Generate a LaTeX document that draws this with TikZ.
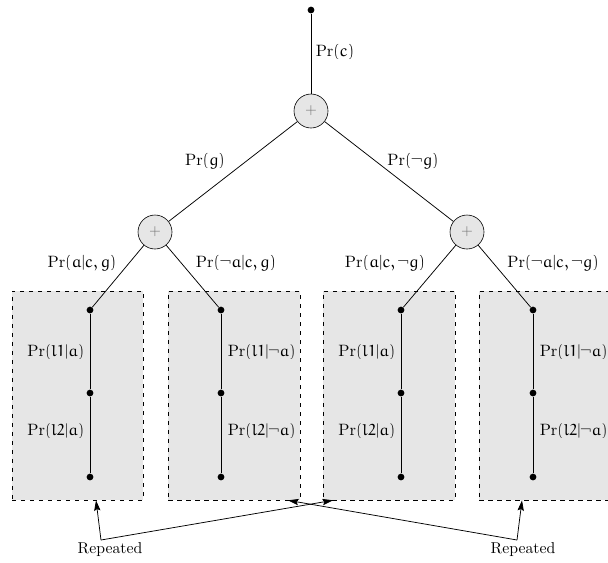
\documentclass[tikz,border=0pt]{standalone}
\usepackage{euler}
\usetikzlibrary{arrows.meta}
\definecolor{boxgray}{HTML}{E6E6E6}
\tikzset{
  sumnode/.style={circle,draw,fill=boxgray,minimum size=34*0.6667pt,inner sep=0pt,font=\color{black!55}},
  dotnode/.style={circle,fill=black,inner sep=0pt,minimum size=4.5pt},
  repbox/.style={draw,dashed,fill=boxgray,inner sep=0pt},
  lbl/.style={inner sep=1pt,font=\fontsize{11}{13}\selectfont},
  boxlbl/.style={inner sep=1pt,font=\fontsize{10.6}{13}\selectfont},
  replbl/.style={inner sep=1pt,font=\fontsize{10.5}{12}\selectfont},
  conn/.style={line width=0.5pt},
  reparrow/.style={line width=0.5pt,-{Stealth[length=7pt,width=4.2pt,inset=1.2pt]}}
}
\begin{document}
\begin{tikzpicture}[x=0.6667pt,y=-0.6667pt]
\useasboundingbox (0,0) rectangle (608,562);
% boxes
\node[repbox,minimum width=131*0.6667pt,minimum height=209*0.6667pt] (b1) at (77.5,395.5) {};
\node[repbox,minimum width=132*0.6667pt,minimum height=209*0.6667pt] (b2) at (234,395.5) {};
\node[repbox,minimum width=132*0.6667pt,minimum height=209*0.6667pt] (b3) at (389,395.5) {};
\node[repbox,minimum width=132*0.6667pt,minimum height=209*0.6667pt] (b4) at (545,395.5) {};
% top
\node[dotnode] (top) at (311,10) {};
\node[sumnode] (s0) at (311,111) {$+$};
\node[sumnode] (s1) at (155,232) {$+$};
\node[sumnode] (s2) at (467,232) {$+$};
\draw[conn] (top) -- (s0);
\draw[conn] (s0) -- (s1);
\draw[conn] (s0) -- (s2);
% chains
\foreach \n/\x in {1/90,2/221,3/401,4/533}{
  \node[dotnode] (d\n a) at (\x,310) {};
  \node[dotnode] (d\n b) at (\x,393) {};
  \node[dotnode] (d\n c) at (\x,477) {};
  \draw[conn] (d\n a) -- (d\n b) -- (d\n c);
}
\draw[conn] (s1) -- (d1a);
\draw[conn] (s1) -- (d2a);
\draw[conn] (s2) -- (d3a);
\draw[conn] (s2) -- (d4a);
% labels
\node[lbl] (lc) at (335,52) {$\Pr(c)$};
\node[lbl] (lg) at (205,161) {$\Pr(g)$};
\node[lbl] (lng) at (413,161) {$\Pr(\neg g)$};
\node[lbl] (la1) at (82,263) {$\Pr(a|c,g)$};
\node[lbl] (la2) at (236,263) {$\Pr(\neg a|c,g)$};
\node[lbl] (la3) at (385,263) {$\Pr(a|c,\neg g)$};
\node[lbl] (la4) at (553,263) {$\Pr(\neg a|c,\neg g)$};
\node[boxlbl,anchor=east] (p11) at (86,353) {$\Pr(l1|a)$};
\node[boxlbl,anchor=east] (p12) at (86,432) {$\Pr(l2|a)$};
\node[boxlbl,anchor=west] (p21) at (226,353) {$\Pr(l1|\neg a)$};
\node[boxlbl,anchor=west] (p22) at (226,432) {$\Pr(l2|\neg a)$};
\node[boxlbl,anchor=east] (p31) at (397,353) {$\Pr(l1|a)$};
\node[boxlbl,anchor=east] (p32) at (397,432) {$\Pr(l2|a)$};
\node[boxlbl,anchor=west] (p41) at (538,353) {$\Pr(l1|\neg a)$};
\node[boxlbl,anchor=west] (p42) at (538,432) {$\Pr(l2|\neg a)$};
% repeated
\node[replbl] (r1) at (110,550) {Repeated};
\node[replbl] (r2) at (523,550) {Repeated};
\coordinate (c1) at (101,540);
\coordinate (c2) at (517,540);
\draw[reparrow] (c1) -- (b1.south -| 96,0);
\draw[reparrow] (c1) -- (b3.south -| 333,0);
\draw[reparrow] (c2) -- (b4.south -| 522,0);
\draw[reparrow] (c2) -- (b2.south -| 288,0);
\end{tikzpicture}
\end{document}
